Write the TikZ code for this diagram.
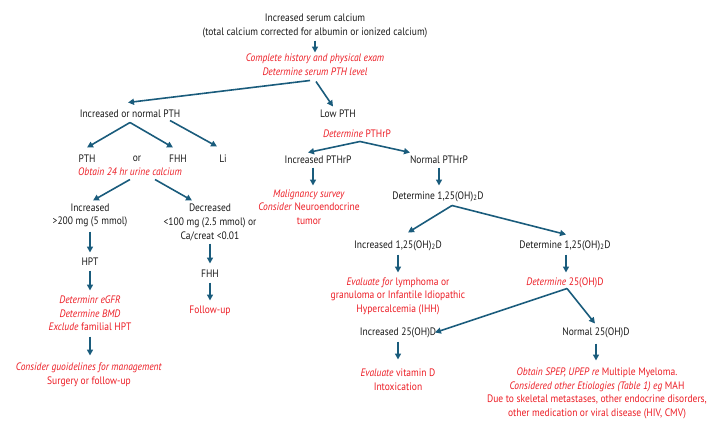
\documentclass[tikz,border=0pt]{standalone}
\usepackage{fontspec}
\setmainfont{PT Sans}[FakeStretch=0.88]
\usetikzlibrary{arrows.meta,calc}
\definecolor{arrblue}{RGB}{26,92,124}
\definecolor{txtred}{RGB}{236,28,36}
\definecolor{txtblack}{RGB}{25,25,25}
\newcommand{\rI}[1]{\textit{#1}}
\tikzset{
  lbl/.style={inner sep=0pt, align=center, text=txtblack, font={\fontsize{10.8}{13.6}\selectfont}},
  rlbl/.style={lbl, text=txtred},
  arr/.style={draw=arrblue, line width=1.6pt, -{Triangle[length=6pt,width=6pt]}}
}
\begin{document}
\begin{tikzpicture}[x=1pt,y=-1pt]
\useasboundingbox (0,0) rectangle (720,432);
% nodes
\node[lbl] (cal) at (315,26) {Increased serum calcium\\(total calcium corrected for albumin or ionized calcium)};
\node[rlbl] (hist) at (315,65) {\rI{Complete history and physical exam}\\\rI{Determine serum PTH level}};
\node[lbl] (inc) at (130,113.5) {Increased or normal PTH};
\node[lbl] (low) at (338,113.5) {Low PTH};
\node[lbl] (pth) at (87,158.5) {PTH};
\node[lbl] (or) at (137,158.5) {or};
\node[lbl] (fhh) at (178,158.5) {FHH};
\node[lbl] (li) at (223,158.5) {Li};
\node[rlbl] (urine) at (130,171.5) {\rI{Obtain 24 hr urine calcium}};
\node[lbl] (incu) at (90,215.5) {Increased\\>200 mg (5 mmol)};
\node[lbl] (decu) at (210,222.5) {Decreased\\<100 mg (2.5 mmol) or\\Ca/creat <0.01};
\node[lbl] (hpt) at (90,261.5) {HPT};
\node[rlbl] (det) at (90,313.5) {\rI{Determinr eGFR}\\\rI{Determine BMD}\\\rI{Exclude} familial HPT};
\node[rlbl] (cons) at (89,374.5) {\rI{Consider guoidelines for management}\\Surgery or follow-up};
\node[lbl] (fhh2) at (210,273.5) {FHH};
\node[rlbl] (fu) at (210,310.5) {Follow-up};
\node[rlbl] (pthrp) at (357,133.5) {\rI{Determine} PTHrP};
\node[lbl] (incr) at (318,159.5) {Increased PTHrP};
\node[lbl] (norm) at (439,159.5) {Normal PTHrP};
\node[rlbl] (mal) at (309,207) {\rI{Malignancy survey}\\\rI{Consider} Neuroendocrine\\tumor};
\node[lbl] (d125) at (438,196.5) {Determine 1,25(OH)\textsubscript{2}D};
\node[lbl] (i125) at (398,245.5) {Increased 1,25(OH)\textsubscript{2}D};
\node[lbl] (d125b) at (565,245.5) {Determine 1,25(OH)\textsubscript{2}D};
\node[rlbl] (eval) at (398,296) {\rI{Evaluate for} lymphoma or\\granuloma or Infantile Idiopathic\\Hypercalcemia (IHH)};
\node[rlbl] (d25) at (565,282.5) {\rI{Determine} 25(OH)D};
\node[lbl] (i25) at (398,332.5) {Increased 25(OH)D};
\node[lbl] (n25) at (596,332.5) {Normal 25(OH)D};
\node[rlbl] (vit) at (398,379.5) {\rI{Evaluate} vitamin D\\Intoxication};
\node[rlbl] (obt) at (597,393.5) {\rI{Obtain SPEP, UPEP re} Multiple Myeloma.\\\rI{Considered other Etiologies (Table 1) eg} MAH\\Due to skeletal metastases, other endocrine disorders,\\other medication or viral disease (HIV, CMV)};
% arrows
\draw[arr] ($(cal)+(0,14.5)$) -- ($(hist)+(0,-12.5)$);
\draw[arr] ($(hist)+(-5,15.5)$) -- ($(inc)+(-2,-11)$);
\draw[arr] ($(hist)+(1,16.5)$) -- ($(low)+(-5,-7)$);
\draw[arr] ($(inc)+(0,9)$) -- ($(pth)+(0,-11)$);
\draw[arr] ($(inc)+(0,9)$) -- ($(fhh)+(-5,-11)$);
\draw[arr] ($(inc)+(40,7)$) -- ($(li)+(-6,-12)$);
\draw[arr] ($(urine)+(0,8)$) -- ($(incu)+(3,-15)$);
\draw[arr] ($(urine)+(25,8)$) -- ($(decu)+(-18,-22)$);
\draw[arr] ($(incu)+(0,16)$) -- ($(hpt)+(0,-9)$);
\draw[arr] ($(hpt)+(0,9)$) -- ($(det)+(0,-23)$);
\draw[arr] ($(det)+(0,23)$) -- ($(cons)+(1,-19)$);
\draw[arr] ($(decu)+(0,21)$) -- ($(fhh2)+(0,-10)$);
\draw[arr] ($(fhh2)+(0,9)$) -- ($(fu)+(0,-10)$);
\draw[arr] ($(pthrp)+(3,8)$) -- ($(incr)+(-10,-7)$);
\draw[arr] ($(pthrp)+(3,8)$) -- ($(norm)+(-29,-7)$);
\draw[arr] ($(incr)+(-5,8)$) -- ($(mal)+(4,-21.5)$);
\draw[arr] ($(norm)+(0,8)$) -- ($(d125)+(1,-11)$);
\draw[arr] ($(d125)+(14,9)$) -- ($(i125)+(10,-13)$);
\draw[arr] ($(d125)+(14,9)$) -- ($(d125b)+(1,-11)$);
\draw[arr] ($(i125)+(0,9)$) -- ($(eval)+(0,-23.5)$);
\draw[arr] ($(d125b)+(1,9)$) -- ($(d25)+(1,-10)$);
\draw[arr] ($(d25)+(2,6)$) -- ($(i25)+(37,0)$);
\draw[arr] ($(d25)+(2,6)$) -- ($(n25)+(-1,-9)$);
\draw[arr] ($(i25)+(0,9)$) -- ($(vit)+(0,-20)$);
\draw[arr] ($(n25)+(0,11)$) -- ($(obt)+(-1,-33)$);
\end{tikzpicture}
\end{document}
